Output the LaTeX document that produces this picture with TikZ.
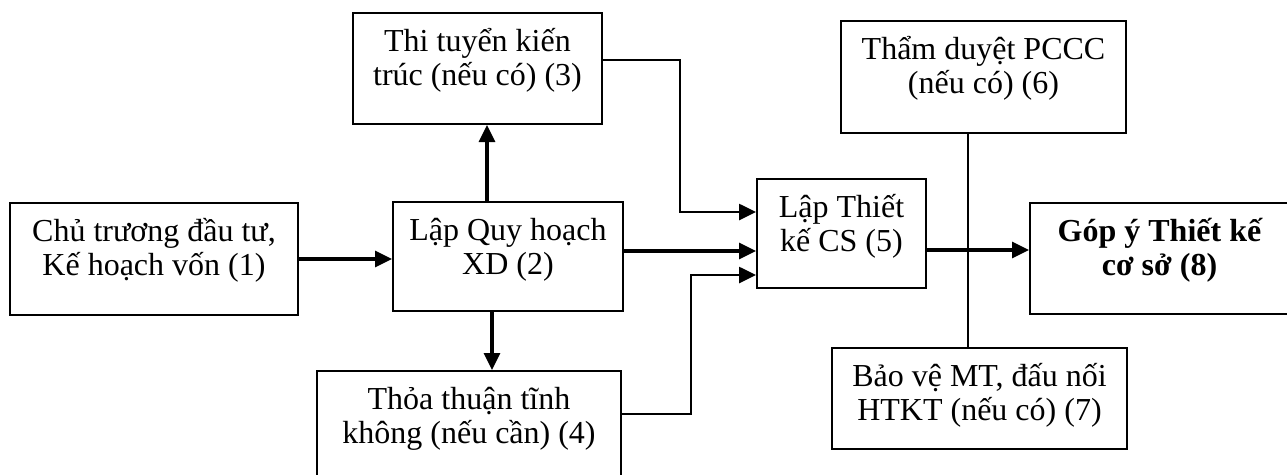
\documentclass[tikz,border=0pt]{standalone}
\usepackage{fontspec}
\setmainfont{Liberation Serif}
\usetikzlibrary{arrows.meta,calc}
\tikzset{
  blk/.style={draw, line width=2pt, inner sep=0pt, rectangle},
  txt/.style={anchor=base, inner sep=0pt, font=\fontsize{32}{34}\selectfont},
  arr/.style={line width=3.2pt, -{Triangle[length=17pt,width=16pt]}},
  elb/.style={line width=2.6pt, -{Triangle[length=17pt,width=16pt]}},
  link/.style={line width=2pt},
}
\begin{document}
\begin{tikzpicture}[x=1pt,y=-1pt]
\useasboundingbox (0,0) rectangle (1287,474);
\clip (0,0) rectangle (1287,474);
% boxes
\node[blk, minimum width=288pt, minimum height=112pt] (b1) at (154,259) {};
\node[blk, minimum width=230pt, minimum height=109pt] (b2) at (508,256.5) {};
\node[blk, minimum width=249pt, minimum height=111pt] (b3) at (477.5,68.5) {};
\node[blk, minimum width=304pt, minimum height=119pt] (b4) at (469,430.5) {};
\node[blk, minimum width=169pt, minimum height=109pt] (b5) at (841.5,233.5) {};
\node[blk, minimum width=285pt, minimum height=112pt] (b6) at (983.5,77) {};
\node[blk, minimum width=295pt, minimum height=101pt] (b7) at (979.5,398.5) {};
\node[blk, minimum width=259pt, minimum height=111pt] (b8) at (1159.5,258.5) {};
% texts
\node[txt] (t1) at ($(b1.north)+(0,39)$) {\parbox[t]{300pt}{\centering Chủ trương đầu tư,\\Kế hoạch vốn (1)}};
\node[txt] (t2) at ($(b2.north)+(0,39)$) {\parbox[t]{300pt}{\centering Lập Quy hoạch\\XD (2)}};
\node[txt] (t3) at ($(b3.north)+(0,39)$) {\parbox[t]{300pt}{\centering Thi tuyển kiến\\trúc (nếu có) (3)}};
\node[txt] (t4) at ($(b4.north)+(0,39)$) {\parbox[t]{320pt}{\centering Thỏa thuận tĩnh\\không (nếu cần) (4)}};
\node[txt] (t5) at ($(b5.north)+(0,39)$) {\parbox[t]{300pt}{\centering Lập Thiết\\kế CS (5)}};
\node[txt] (t6) at ($(b6.north)+(0,39)$) {\parbox[t]{300pt}{\centering Thẩm duyệt PCCC\\(nếu có) (6)}};
\node[txt] (t7) at ($(b7.north)+(0,39)$) {\parbox[t]{320pt}{\centering Bảo vệ MT, đấu nối\\HTKT (nếu có) (7)}};
\node[txt] (t8) at ($(b8.north)+(0,39)$) {\parbox[t]{300pt}{\centering\bfseries Góp ý Thiết kế\\cơ sở (8)}};
% helper coordinates
\coordinate (xa) at (487,0);
\coordinate (xb) at (492,0);
\coordinate (xe) at (968,0);
\coordinate (ya) at (0,60);
\coordinate (yb) at (0,212);
\coordinate (yc) at (0,251);
\coordinate (yd) at (0,275);
\coordinate (ye) at (0,414);
\coordinate (yf) at (0,250);
\coordinate (c1) at (680,60);
\coordinate (c2) at (680,212);
\coordinate (c3) at (691,414);
\coordinate (c4) at (691,275);
% connectors
\draw[arr] (b1.east) -- (b1.east -| b2.west);
\draw[arr] (b2.north -| xa) -- (b3.south -| xa);
\draw[arr] (b2.south -| xb) -- (b4.north -| xb);
\draw[arr] (b2.east |- yc) -- (b5.west |- yc);
\draw[elb] (b3.east |- ya) -- (c1) -- (c2) -- (b5.west |- yb);
\draw[elb] (b4.east |- ye) -- (c3) -- (c4) -- (b5.west |- yd);
\draw[arr] (b5.east |- yf) -- (b8.west |- yf);
\draw[link] (b6.south -| xe) -- (b7.north -| xe);
\end{tikzpicture}
\end{document}
